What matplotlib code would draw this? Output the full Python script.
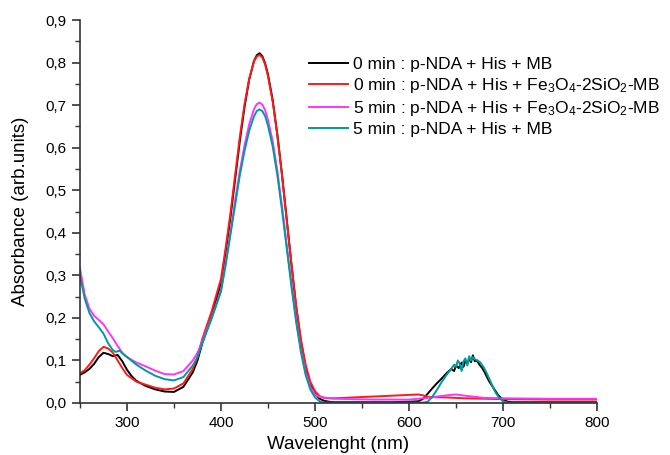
import matplotlib
matplotlib.use("Agg")
import matplotlib.pyplot as plt
from matplotlib.ticker import MultipleLocator, FuncFormatter

plt.rcParams['font.family'] = ['Liberation Sans', 'DejaVu Sans']
plt.rcParams['mathtext.fontset'] = 'custom'
plt.rcParams['mathtext.rm'] = 'Liberation Sans'
plt.rcParams['mathtext.it'] = 'Liberation Sans:italic'

# ---- data ----
labels = [
    "0 min : p-NDA + His + MB",
    "0 min : p-NDA + His + Fe$_3$O$_4$-2SiO$_2$-MB",
    "5 min : p-NDA + His + Fe$_3$O$_4$-2SiO$_2$-MB",
    "5 min : p-NDA + His + MB",
]
colors = ["#000000", "#ff1a1a", "#ff33ff", "#009a9a"]

# 0 min, MB (black)
wl_black = [250, 255, 260, 265, 270, 275, 280, 285, 290, 295, 300, 305, 310, 320, 330, 340, 350, 360,
            370, 375, 380, 390, 400, 405, 410, 415, 420, 425, 430, 435, 438, 441, 444, 447, 450, 455,
            460, 465, 470, 475, 480, 485, 490, 495, 500, 505, 510, 515, 520, 540, 560, 580, 600, 610,
            615, 620, 625, 630, 635, 640, 645, 648, 650, 653, 656, 658, 660, 662, 664, 666, 668, 670,
            672, 675, 678, 681, 685, 690, 695, 700, 705, 710, 740, 770, 800]
ab_black = [0.066, 0.072, 0.080, 0.092, 0.108, 0.118, 0.115, 0.110, 0.113, 0.098, 0.078, 0.063, 0.052,
            0.040, 0.032, 0.027, 0.026, 0.038, 0.072, 0.100, 0.140, 0.205, 0.282, 0.355, 0.435, 0.525,
            0.615, 0.695, 0.760, 0.803, 0.817, 0.822, 0.815, 0.798, 0.772, 0.712, 0.630, 0.535, 0.430,
            0.325, 0.225, 0.145, 0.085, 0.045, 0.022, 0.010, 0.005, 0.003, 0.002, 0.002, 0.002, 0.002,
            0.003, 0.004, 0.010, 0.022, 0.035, 0.047, 0.058, 0.070, 0.080, 0.075, 0.088, 0.082, 0.095,
            0.085, 0.100, 0.092, 0.104, 0.096, 0.112, 0.098, 0.100, 0.090, 0.082, 0.070, 0.052, 0.035,
            0.018, 0.008, 0.003, 0.002, 0.002, 0.002, 0.002]

# 0 min, Fe3O4-2SiO2-MB (red)
wl_red = [250, 255, 260, 265, 270, 275, 280, 285, 290, 295, 300, 305, 310, 320, 330, 340, 350, 360,
          370, 375, 380, 390, 400, 405, 410, 415, 420, 425, 430, 435, 438, 441, 444, 447, 450, 455,
          460, 465, 470, 475, 480, 485, 490, 495, 500, 505, 510, 520, 540, 560, 580, 600, 610, 615,
          620, 640, 660, 700, 750, 800]
ab_red = [0.070, 0.077, 0.090, 0.105, 0.122, 0.132, 0.128, 0.118, 0.100, 0.082, 0.066, 0.058, 0.050,
          0.043, 0.036, 0.032, 0.034, 0.046, 0.080, 0.108, 0.150, 0.215, 0.292, 0.365, 0.445, 0.535,
          0.625, 0.702, 0.762, 0.802, 0.814, 0.818, 0.812, 0.795, 0.768, 0.708, 0.628, 0.533, 0.428,
          0.325, 0.228, 0.150, 0.090, 0.050, 0.028, 0.016, 0.012, 0.011, 0.013, 0.015, 0.017, 0.019,
          0.020, 0.018, 0.014, 0.013, 0.011, 0.009, 0.008, 0.008]

# 5 min, Fe3O4-2SiO2-MB (magenta)
wl_mag = [250, 255, 260, 265, 270, 275, 280, 285, 290, 295, 300, 310, 320, 330, 340, 350, 360, 370,
          375, 380, 390, 400, 405, 410, 415, 420, 425, 430, 435, 438, 441, 444, 447, 450, 455, 460,
          465, 470, 475, 480, 485, 490, 495, 500, 505, 520, 560, 600, 620, 640, 650, 660, 680, 700,
          750, 800]
ab_mag = [0.316, 0.255, 0.222, 0.205, 0.195, 0.185, 0.168, 0.152, 0.134, 0.118, 0.108, 0.095, 0.086,
          0.076, 0.068, 0.067, 0.075, 0.100, 0.118, 0.145, 0.200, 0.265, 0.330, 0.400, 0.475, 0.545,
          0.605, 0.655, 0.690, 0.702, 0.706, 0.701, 0.688, 0.665, 0.615, 0.545, 0.460, 0.370, 0.280,
          0.195, 0.125, 0.072, 0.038, 0.020, 0.014, 0.010, 0.008, 0.008, 0.012, 0.018, 0.020, 0.017,
          0.012, 0.011, 0.010, 0.010]

# 5 min, MB (teal)
wl_teal = [250, 255, 260, 265, 270, 275, 280, 285, 288, 292, 296, 300, 310, 320, 330, 340, 350, 360,
           370, 375, 380, 390, 400, 405, 410, 415, 420, 425, 430, 435, 438, 441, 444, 447, 450, 455,
           460, 465, 470, 475, 480, 485, 490, 495, 500, 505, 510, 520, 560, 600, 615, 620, 625, 630,
           635, 640, 645, 648, 650, 652, 654, 656, 658, 660, 662, 664, 666, 668, 670, 673, 676, 680,
           684, 688, 692, 696, 700, 705, 750, 800]
ab_teal = [0.300, 0.245, 0.212, 0.192, 0.178, 0.163, 0.140, 0.124, 0.120, 0.123, 0.115, 0.108, 0.090,
           0.076, 0.064, 0.056, 0.053, 0.061, 0.088, 0.108, 0.140, 0.198, 0.262, 0.325, 0.395, 0.465,
           0.535, 0.592, 0.640, 0.673, 0.686, 0.690, 0.686, 0.674, 0.652, 0.603, 0.535, 0.452, 0.363,
           0.273, 0.190, 0.120, 0.066, 0.032, 0.013, 0.004, 0.001, 0.001, 0.001, 0.001, 0.001, 0.003,
           0.015, 0.032, 0.050, 0.066, 0.080, 0.090, 0.085, 0.100, 0.092, 0.075, 0.098, 0.105, 0.088,
           0.110, 0.100, 0.108, 0.103, 0.100, 0.095, 0.082, 0.064, 0.044, 0.025, 0.012, 0.004, 0.001,
           0.001, 0.001]

series = [(wl_black, ab_black), (wl_red, ab_red), (wl_mag, ab_mag), (wl_teal, ab_teal)]

x_ticks = [300, 400, 500, 600, 700, 800]
y_ticks = [0.0, 0.1, 0.2, 0.3, 0.4, 0.5, 0.6, 0.7, 0.8, 0.9]

# ---- figure ----
fig = plt.figure(figsize=(6.7, 4.55), dpi=100)
ax = fig.add_axes([0.1194, 0.1143, 0.7716, 0.8417])

for (wl, ab), c, lab in zip(series, colors, labels):
    ax.plot(wl, ab, color=c, lw=1.4, label=lab)

ax.set_xlim(250, 800)
ax.set_ylim(0, 0.9)
ax.set_xticks(x_ticks)
ax.set_yticks(y_ticks)
ax.xaxis.set_minor_locator(MultipleLocator(50))
ax.yaxis.set_minor_locator(MultipleLocator(0.05))
ax.yaxis.set_major_formatter(FuncFormatter(lambda v, p: f"{v:.1f}".replace('.', ',')))
for s in ['top', 'right']:
    ax.spines[s].set_visible(False)
for s in ['left', 'bottom']:
    ax.spines[s].set_linewidth(1.2)
    ax.spines[s].set_color('#333333')
ax.tick_params(which='major', direction='out', length=6, width=1.2, labelsize=11, color='#333333')
ax.tick_params(which='minor', direction='out', length=3.5, width=1.0, color='#333333')

ax.set_xlabel("Wavelenght (nm)", fontsize=13.5, labelpad=4)
ax.set_ylabel("Absorbance (arb.units)", fontsize=13.5, labelpad=12)

ax.legend(loc='upper right', bbox_to_anchor=(0.995, 0.89), bbox_transform=fig.transFigure,
          frameon=False, fontsize=12.5, handlelength=2.2, handletextpad=0.3, labelspacing=0.22,
          borderaxespad=0.0)

fig.savefig("out.png", dpi=100)
